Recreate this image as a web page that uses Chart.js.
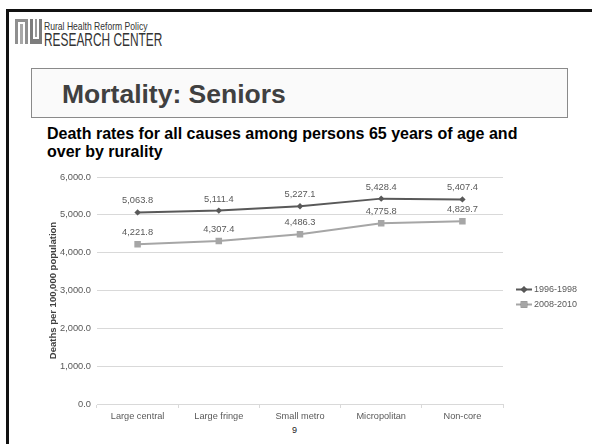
<!DOCTYPE html>
<html>
<head>
<meta charset="utf-8">
<script src="https://cdn.jsdelivr.net/npm/chart.js@4"></script>
<style>
  html, body { margin: 0; padding: 0; background: #ffffff; }
  body { width: 592px; height: 444px; position: relative; overflow: hidden; font-family: "Liberation Sans", Arial, sans-serif; }
  .frame-top { position: absolute; left: 6px; top: 9px; width: 586px; height: 3px; background: #111; }
  .frame-left { position: absolute; left: 6px; top: 9px; width: 3px; height: 435px; background: #111; }
  .logo { position: absolute; left: 15px; top: 19px; width: 27px; height: 25px; }
  .logo div { position: absolute; }
  .org1 { position: absolute; left: 44px; top: 20px; font-size: 11px; color: #333; white-space: nowrap; transform: scaleX(0.78); transform-origin: 0 0; }
  .org2 { position: absolute; left: 44px; top: 30px; font-size: 17.5px; color: #333; white-space: nowrap; transform: scaleX(0.68); transform-origin: 0 0; letter-spacing: 0; }
  .titlebox { position: absolute; left: 31px; top: 68px; width: 535px; height: 48px; background: #fafafa; border: 1px solid #8a8a8a; }
  .titlebox span { position: absolute; left: 30px; top: 10px; font-size: 26.5px; font-weight: bold; color: #404040; white-space: nowrap; }
  .subtitle { position: absolute; left: 47px; top: 125px; font-size: 16px; line-height: 17.5px; font-weight: bold; color: #000; white-space: nowrap; }
  .pagenum { position: absolute; left: 292px; top: 425px; font-size: 9px; color: #222; }
  canvas { position: absolute; left: 0; top: 0; }
</style>
</head>
<body>
<div class="frame-top"></div>
<div class="frame-left"></div>
<div class="logo">
  <div style="left:0;top:0;width:13px;height:25px;background:#8f8f8f"></div>
  <div style="left:3px;top:3px;width:7px;height:22px;background:#ffffff"></div>
  <div style="left:5px;top:5px;width:3px;height:20px;background:#a8a8a8"></div>
  <div style="left:15px;top:0;width:12px;height:25px;background:#7d7d7d"></div>
  <div style="left:18px;top:0;width:6px;height:20px;background:#ffffff"></div>
  <div style="left:20px;top:0;width:2px;height:18px;background:#9a9a9a"></div>
</div>
<div class="org1">Rural Health Reform Policy</div>
<div class="org2">RESEARCH CENTER</div>
<div class="titlebox"><span>Mortality: Seniors</span></div>
<div class="subtitle">Death rates for all causes among persons 65 years of age and<br>over by rurality</div>
<div class="pagenum">9</div>
<canvas id="chart" width="592" height="444"></canvas>
<script>
// Rurality categories and death rates per 100,000 population, ages 65+
const categories = ['Large central', 'Large fringe', 'Small metro', 'Micropolitan', 'Non-core'];
const seriesNames = ['1996-1998', '2008-2010'];
const rates1996to1998 = [5063.8, 5111.4, 5227.1, 5428.4, 5407.4];
const rates2008to2010 = [4221.8, 4307.4, 4486.3, 4775.8, 4829.7];
const yAxisMin = 0;
const yAxisMax = 6000;
const yAxisStep = 1000;
const yAxisTitle = 'Deaths per 100,000 population';

const FONT = '"Liberation Sans", Arial, sans-serif';
const fmt = v => Number(v).toLocaleString('en-US', { minimumFractionDigits: 1, maximumFractionDigits: 1 });

// Value labels above each point
const valueLabels = {
  id: 'valueLabels',
  afterDatasetsDraw(chart) {
    const ctx = chart.ctx;
    ctx.save();
    ctx.font = '9.3px ' + FONT;
    ctx.fillStyle = '#595959';
    ctx.textAlign = 'center';
    ctx.textBaseline = 'middle';
    chart.data.datasets.forEach((ds, i) => {
      const meta = chart.getDatasetMeta(i);
      meta.data.forEach((pt, j) => {
        ctx.fillText(fmt(ds.data[j]), pt.x, pt.y - 11.5);
      });
    });
    ctx.restore();
  }
};

// Legend on the right: short line with the series marker, then the name
const sideLegend = {
  id: 'sideLegend',
  afterDraw(chart) {
    const ctx = chart.ctx;
    const x0 = 516, x1 = 532, rows = [289.5, 304.5];
    ctx.save();
    chart.data.datasets.forEach((ds, i) => {
      const y = rows[i];
      ctx.strokeStyle = ds.borderColor;
      ctx.lineWidth = ds.borderWidth;
      ctx.beginPath();
      ctx.moveTo(x0, y);
      ctx.lineTo(x1, y);
      ctx.stroke();
      Chart.helpers.drawPoint(ctx, {
        pointStyle: ds.pointStyle,
        radius: ds.pointRadius,
        borderWidth: 0,
        rotation: 0
      }, (x0 + x1) / 2, y);
      ctx.fillStyle = ds.pointBackgroundColor;
      ctx.fill();
      ctx.font = '9px ' + FONT;
      ctx.fillStyle = '#595959';
      ctx.textAlign = 'left';
      ctx.textBaseline = 'middle';
      ctx.fillText(ds.label, x1 + 2, y);
    });
    ctx.restore();
  }
};

new Chart(document.getElementById('chart'), {
  type: 'line',
  data: {
    labels: categories,
    datasets: [
      {
        label: seriesNames[0],
        data: rates1996to1998,
        borderColor: '#595959',
        backgroundColor: '#595959',
        pointBackgroundColor: '#595959',
        pointBorderColor: '#595959',
        borderWidth: 2,
        pointStyle: 'rectRot',
        pointRadius: 3.2,
        pointBorderWidth: 0,
        tension: 0
      },
      {
        label: seriesNames[1],
        data: rates2008to2010,
        borderColor: '#a6a6a6',
        backgroundColor: '#a6a6a6',
        pointBackgroundColor: '#a6a6a6',
        pointBorderColor: '#a6a6a6',
        borderWidth: 2,
        pointStyle: 'rect',
        pointRadius: 4.6,
        pointBorderWidth: 0,
        tension: 0
      }
    ]
  },
  options: {
    responsive: false,
    animation: false,
    layout: { padding: { left: 48, right: 89, top: 177, bottom: 20 } },
    plugins: {
      legend: { display: false },
      tooltip: { enabled: false },
      title: { display: false }
    },
    scales: {
      x: {
        offset: true,
        grid: { offset: true, drawOnChartArea: false, drawTicks: true, tickLength: 4, color: '#d9d9d9' },
        border: { display: true, color: '#d9d9d9', width: 1 },
        ticks: { color: '#595959', font: { family: FONT, size: 9.2 }, padding: 3, maxRotation: 0, autoSkip: false },
        afterFit(scale) { scale.height = 20; }
      },
      y: {
        min: yAxisMin,
        max: yAxisMax,
        grid: { color: '#d9d9d9', drawTicks: false, lineWidth: 1 },
        border: { display: false },
        ticks: {
          stepSize: yAxisStep,
          color: '#595959',
          font: { family: FONT, size: 9.3 },
          padding: 6,
          callback: v => fmt(v)
        },
        title: {
          display: true,
          text: yAxisTitle,
          color: '#404040',
          font: { family: FONT, size: 9.5, weight: 'bold' },
          padding: { top: 0, bottom: 0 }
        },
        afterFit(scale) { scale.width = 49; }
      }
    }
  },
  plugins: [valueLabels, sideLegend]
});
</script>
</body>
</html>
